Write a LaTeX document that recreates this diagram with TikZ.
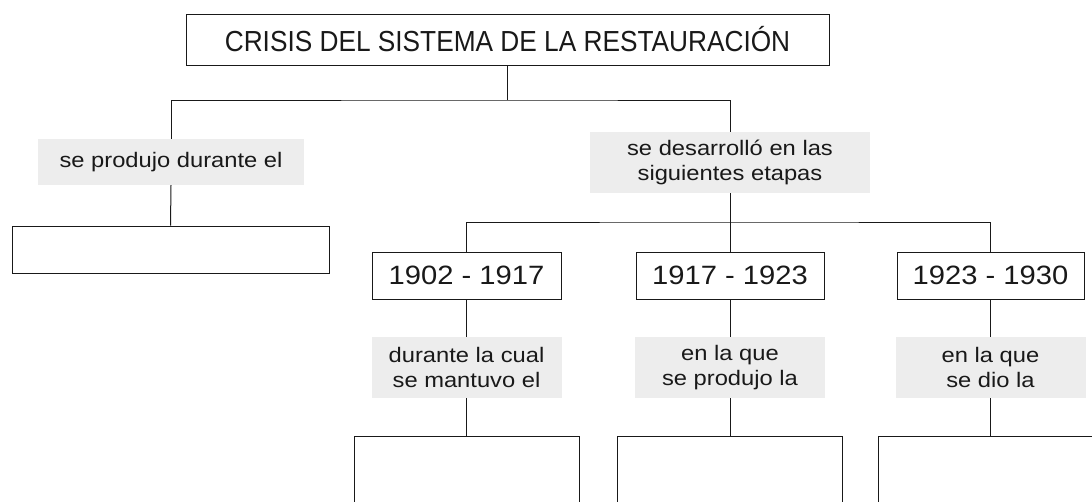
\documentclass[tikz,border=0pt]{standalone}
\usepackage{fontspec}
\setmainfont{Liberation Sans}
\newfontfamily\titlefont[FakeStretch=0.905]{Liberation Sans}
\newfontfamily\datefont[FakeStretch=1.1]{Liberation Sans}
\newfontfamily\lblfont[FakeStretch=1.13]{Liberation Sans}
\begin{document}
\begin{tikzpicture}[x=1pt,y=-1pt,
  line/.style={draw=black!90,line width=1pt},
  box/.style={line,draw,fill=white,inner sep=0pt,align=center,text=black!90},
  datebox/.style={box,minimum height=47pt,font=\datefont\fontsize{26.5}{30}\selectfont},
  lbl/.style={fill=black!7,inner sep=0pt,align=center,text=black!90,
     font=\lblfont\fontsize{21}{25.5}\selectfont},
]
\clip (0,0) rectangle (1092,501);
\useasboundingbox (0,0) rectangle (1092,501);
% nodes
\node[box,minimum width=643pt,minimum height=51pt,font=\titlefont\fontsize{29}{32}\selectfont] (top) at (507.5,39.5) {CRISIS DEL SISTEMA DE LA RESTAURACIÓN};
\node[lbl,minimum width=266pt,minimum height=46pt] (lblL) at (171,162) {se produjo durante el};
\node[box,minimum width=317pt,minimum height=47pt] (boxL) at (170.5,249.5) {};
\node[lbl,minimum width=280pt,minimum height=61pt] (lblR) at (730,162.5) {se desarrolló en las\\siguientes etapas};
\node[datebox,minimum width=189pt] (d1) at (466.5,275.5) {1902 - 1917};
\node[datebox,minimum width=188pt] (d2) at (730,275.5) {1917 - 1923};
\node[datebox,minimum width=187pt] (d3) at (990.5,275.5) {1923 - 1930};
\node[lbl,minimum width=190pt,minimum height=61pt] (l1) at (466.5,367.5) {durante la cual\\se mantuvo el};
\node[lbl,minimum width=190pt,minimum height=61pt] (l2) at (730,367.5) {en la que\\se produjo la};
\node[lbl,minimum width=190pt,minimum height=61pt] (l3) at (990.5,367.5) {en la que\\se dio la};
\node[box,minimum width=225pt,minimum height=120pt,anchor=north] (b1) at (466.5,436) {};
\node[box,minimum width=225pt,minimum height=120pt,anchor=north] (b2) at (730,436) {};
\node[box,minimum width=225pt,minimum height=120pt,anchor=north] (b3) at (990.5,436) {};
% junctions
\coordinate (j1) at (507.5,100);
\coordinate (j2) at (730,222);
% connectors
\draw[line] (top.south) -- (j1);
\draw[line] (lblL.north) |- (j1) -| (lblR.north);
\draw[line] (lblL.south) -- (boxL.north);
\draw[line] (lblR.south) -- (j2);
\draw[line] (d1.north) |- (j2) -| (d3.north);
\draw[line] (j2) -- (d2.north);
\draw[line] (d1.south) -- (l1.north);
\draw[line] (d2.south) -- (l2.north);
\draw[line] (d3.south) -- (l3.north);
\draw[line] (l1.south) -- (b1.north);
\draw[line] (l2.south) -- (b2.north);
\draw[line] (l3.south) -- (b3.north);
\end{tikzpicture}
\end{document}
